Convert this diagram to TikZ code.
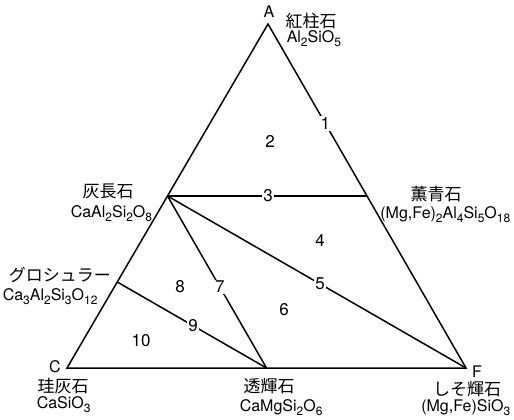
\documentclass[tikz,border=0pt]{standalone}
\usepackage{fontspec}
\usetikzlibrary{calc}
\setmainfont{TeX Gyre Heros}
\newfontfamily\jpfont{Noto Sans CJK JP}
\newcommand{\sbs}[1]{\raisebox{-4pt}{\fontsize{12}{12}\selectfont #1}}
\begin{document}
\begin{tikzpicture}[x=1pt,y=-1pt,line width=1.5pt,line join=miter,
  jptext/.style={font=\jpfont\fontsize{17}{17}\selectfont,inner sep=0pt},
  formula/.style={font=\fontsize{16}{16}\selectfont,inner sep=0pt,anchor=base west},
  region/.style={font=\fontsize{17}{17}\selectfont,inner sep=0pt},
  onlinelabel/.style={font=\fontsize{17}{17}\selectfont,fill=white,inner sep=1.5pt},
  corner/.style={font=\fontsize{16}{16}\selectfont,inner sep=0pt}]
\useasboundingbox (0,0) rectangle (514,420);
% vertices and points
\coordinate (A) at (268,24);
\coordinate (C) at (67,368);
\coordinate (F) at (466,368);
\coordinate (an) at ($(A)!0.5!(C)$);
\coordinate (co) at ($(A)!0.5!(F)$);
\coordinate (di) at ($(C)!0.5!(F)$);
\coordinate (gr) at ($(C)!0.25!(A)$);
% lines
\draw (A) -- (C) -- (F) -- cycle;
\draw (an) -- (co);
\draw (an) -- (F);
\draw (an) -- (di);
\draw (gr) -- (di);
% line labels
\node[onlinelabel] (l1) at ($(A)!0.29!(F)$) {1};
\node[onlinelabel] (l3) at ($(an)!0.504!(co)$) {3};
\node[onlinelabel] (l5) at ($(an)!0.511!(F)$) {5};
\node[onlinelabel] (l7) at ($(an)!0.529!(di)$) {7};
\node[onlinelabel] (l9) at ($(gr)!0.508!(di)$) {9};
% region labels
\node[region] (r2) at (270,141) {2};
\node[region] (r4) at (320,240) {4};
\node[region] (r6) at (284,310) {6};
\node[region] (r8) at (180,287) {8};
\node[region] (r10) at (141,341) {10};
% corner letters
\node[corner] (tA) at (269,12) {A};
\node[corner] (tC) at (55,367) {C};
\node[corner] (tF) at (477,372) {F};
% mineral names
\node[jptext] (jA) at (311,21) {紅柱石};
\node[formula] (fA) at (286,43) {Al\sbs{2}SiO\sbs{5}};
\node[jptext] (jan) at (108,191) {灰長石};
\node[formula] (fan) at (70,217) {CaAl\sbs{2}Si\sbs{2}O\sbs{8}};
\node[jptext] (jgr) at (60,275) {グロシュラー};
\node[formula] (fgr) at (2,300) {Ca\sbs{3}Al\sbs{2}Si\sbs{3}O\sbs{12}};
\node[jptext] (jC) at (63,386) {珪灰石};
\node[formula] (fC) at (36,408) {CaSiO\sbs{3}};
\node[jptext] (jdi) at (269,386) {透輝石};
\node[formula] (fdi) at (239,411) {CaMgSi\sbs{2}O\sbs{6}};
\node[jptext] (jF) at (467,389) {しそ輝石};
\node[formula,anchor=base east] (fF) at (511,411) {(Mg,Fe)SiO\sbs{3}};
\node[jptext] (jco) at (436,194) {薫青石};
\node[formula,anchor=base east] (fco) at (511,218) {(Mg,Fe)\sbs{2}Al\sbs{4}Si\sbs{5}O\sbs{18}};
\end{tikzpicture}
\end{document}
